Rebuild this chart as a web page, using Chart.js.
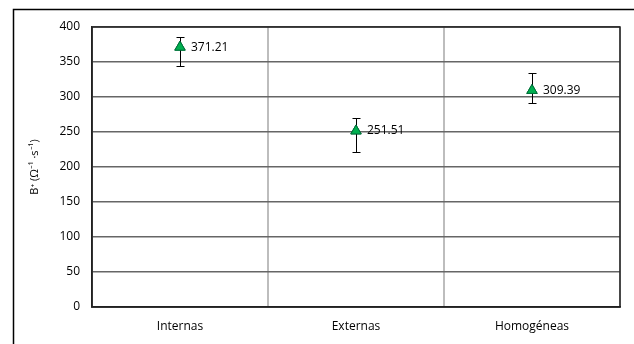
<!DOCTYPE html>
<html>
<head>
<meta charset="utf-8">
<script src="https://cdn.jsdelivr.net/npm/chart.js@4"></script>
<style>
  body { margin: 0; background: #fff; }
</style>
</head>
<body>
<canvas id="chart" width="634" height="344"></canvas>
<script>
// data
const categories = ['Internas', 'Externas', 'Homogéneas'];
const values = [371.21, 251.51, 309.39];
const errHigh = [386, 270, 335];
const errLow = [344, 221, 292];
const yTicks = [0, 50, 100, 150, 200, 250, 300, 350, 400];

const FONT = '"Open Sans", "Liberation Sans", sans-serif';

// outer frame + plot border
const framePlugin = {
  id: 'frame',
  beforeDraw(chart) {
    const ctx = chart.ctx;
    ctx.save();
    ctx.strokeStyle = '#000';
    ctx.lineWidth = 1.5;
    ctx.strokeRect(13.5, 9.5, 700, 400);
    ctx.restore();
  },
  afterDatasetsDraw(chart) {
    const ctx = chart.ctx;
    const a = chart.chartArea;
    ctx.save();
    ctx.strokeStyle = '#222';
    ctx.lineWidth = 1.5;
    ctx.strokeRect(a.left, a.top, a.right - a.left, a.bottom - a.top);
    ctx.restore();
  }
};

// error bars and value labels
const errorPlugin = {
  id: 'errors',
  afterDatasetsDraw(chart) {
    const ctx = chart.ctx;
    const y = chart.scales.y;
    const meta = chart.getDatasetMeta(0);
    ctx.save();
    ctx.strokeStyle = '#000';
    ctx.lineWidth = 1;
    meta.data.forEach((pt, i) => {
      const x = Math.round(pt.x) + 0.5;
      const yh = Math.round(y.getPixelForValue(errHigh[i])) + 0.5;
      const yl = Math.round(y.getPixelForValue(errLow[i])) + 0.5;
      ctx.beginPath();
      ctx.moveTo(x, yh); ctx.lineTo(x, yl);
      ctx.moveTo(x - 4, yh); ctx.lineTo(x + 4, yh);
      ctx.moveTo(x - 4, yl); ctx.lineTo(x + 4, yl);
      ctx.stroke();
    });
    // redraw points over the bars
    meta.data.forEach(pt => pt.draw(ctx));
    ctx.fillStyle = '#000';
    ctx.font = '12px ' + FONT;
    ctx.textBaseline = 'middle';
    meta.data.forEach((pt, i) => {
      ctx.fillText(values[i].toFixed(2), pt.x + 11, pt.y);
    });
    ctx.restore();
  }
};

new Chart(document.getElementById('chart'), {
  type: 'line',
  data: {
    labels: categories,
    datasets: [{
      data: values,
      showLine: false,
      pointStyle: 'triangle',
      pointRadius: 6,
      pointBackgroundColor: '#00b050',
      pointBorderColor: '#00703a',
      pointBorderWidth: 1
    }]
  },
  options: {
    responsive: false,
    animation: false,
    layout: { padding: { left: 28, top: 27, right: 14, bottom: 0 } },
    plugins: { legend: { display: false }, tooltip: { enabled: false } },
    scales: {
      x: {
        offset: true,
        grid: { offset: true, color: '#bdbdbd', lineWidth: 2, drawTicks: false },
        border: { color: '#222', width: 1.5 },
        ticks: { color: '#000', font: { family: FONT, size: 12 }, padding: 12, maxRotation: 0, autoSkip: false },
        afterFit: s => { s.height = 37; }
      },
      y: {
        min: 0,
        max: 400,
        afterBuildTicks: s => { s.ticks = yTicks.map(v => ({ value: v })); },
        grid: { color: '#666', lineWidth: 1.5, drawTicks: false },
        border: { color: '#222', width: 1.5 },
        ticks: { color: '#000', font: { family: FONT, size: 12 }, padding: 12 },
        title: {
          display: true,
          text: 'B⁺ (Ω⁻¹ ·s⁻¹)',
          color: '#000',
          font: { family: FONT, size: 11 },
          padding: { top: 0, bottom: 4 }
        },
        afterFit: s => { s.width = 64; }
      }
    }
  },
  plugins: [framePlugin, errorPlugin]
});
</script>
</body>
</html>
